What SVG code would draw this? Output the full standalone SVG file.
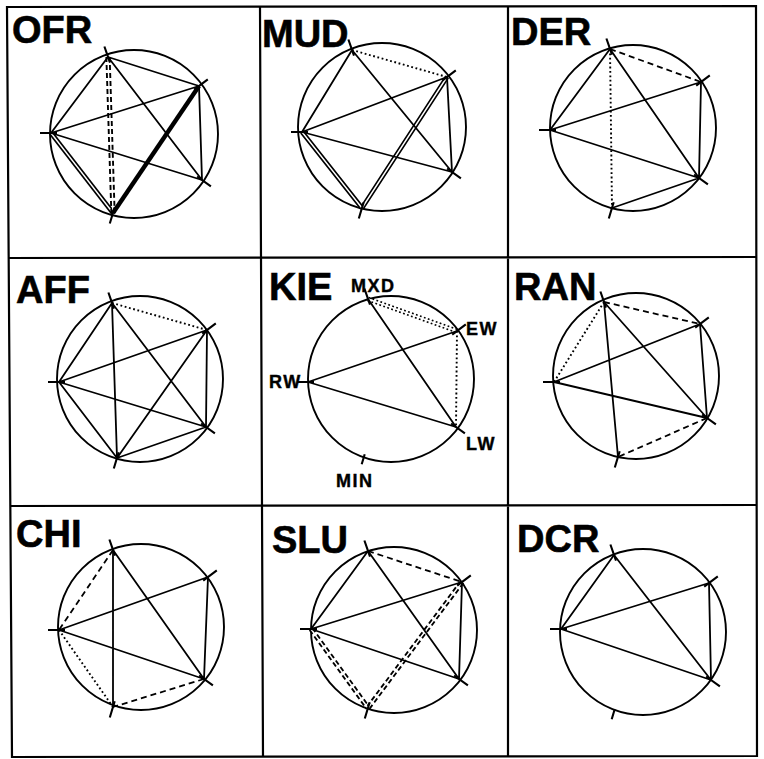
<svg xmlns="http://www.w3.org/2000/svg" width="764" height="759" viewBox="0 0 764 759">
<style>
.bg{fill:#fff}
.frame{fill:none;stroke:#000;stroke-width:2.2}
.c{fill:none;stroke:#000;stroke-width:1.9}
.s,.d,.o,.tk,.th,.db,.dw,.ddb,.odb{fill:none;stroke:#000;stroke-linecap:butt}
.s{stroke-width:1.8}
.d{stroke-width:1.8;stroke-dasharray:6 4}
.o{stroke-width:1.9;stroke-dasharray:1.8 2.6}
.tk{stroke-width:2.1}
.th{stroke-width:4.4}
.db{stroke-width:4.8}
.dw{stroke:#fff;stroke-width:1.4}
.ddb{stroke-width:5.2;stroke-dasharray:5 3}
.odb{stroke-width:4.8;stroke-dasharray:1.8 2.4}
.t{font-family:"Liberation Sans",Arial,Helvetica,sans-serif;font-weight:bold;fill:#000}
.big{font-size:38px;stroke:#000;stroke-width:0.6}
.sm{font-size:18px;letter-spacing:1.5px;stroke:#000;stroke-width:0.4}
</style>
<rect class="bg" x="0" y="0" width="764" height="759"/>
<g id="grid">
<path class="frame" d="M7,7 L756,6 L757,756 L12,757 Z"/>
<path class="frame" d="M260,7 L263,757 M508,6 L508,757 M8,258 L757,257 M10,506 L757,505"/>
</g>

<!-- OFR -->
<g id="OFR">
<text class="t big" x="12" y="43">OFR</text>
<g transform="translate(134,134)">
<circle class="c" r="84"/>
<g class="links">
<path class="db" d="M-83,-1 L-21,79"/><path class="dw" d="M-83,-1 L-21,79"/>
<path class="ddb" d="M-26,-77 L-21,79"/><path class="dw" d="M-26,-77 L-21,79"/>
<path class="s" d="M-26,-77 L65,-48 M-26,-77 L-83,-1 M-26,-77 L68,46 M65,-48 L-83,-1 M65,-48 L68,46 M-83,-1 L68,46"/>
<path class="th" d="M65,-48 L-21,79"/>
</g>
<path class="tk" d="M-24,-71.3 l-5.6,-16.2 M60.2,-44.4 l13.6,-10.2 M-77,-1 l-17,0 M63.1,42.5 l13.8,9.9 M-19.3,73.2 l-4.9,16.3"/>
</g>
</g>

<!-- MUD -->
<g id="MUD">
<text class="t big" x="262" y="47">MUD</text>
<g transform="translate(382,127)">
<circle class="c" r="84"/>
<g class="links">
<path class="db" d="M65,-50 L-20,81 M-80,5 L-20,81"/><path class="dw" d="M65,-50 L-20,81 M-80,5 L-20,81"/>
<path class="o" d="M-30,-77 L65,-50"/>
<path class="s" d="M-30,-77 L-80,5 M-30,-77 L70,45 M65,-50 L-80,5 M65,-50 L70,45 M-80,5 L70,45"/>
</g>
<path class="tk" d="M-28,-71.3 l-5.6,-16.2 M60.2,-46.4 l13.6,-10.2 M-74,5 l-17,0 M65.1,41.5 l13.8,9.9 M-18.3,75.2 l-4.9,16.3"/>
</g>
</g>

<!-- DER -->
<g id="DER">
<text class="t big" x="511" y="45">DER</text>
<g transform="translate(633,128)">
<circle class="c" r="83"/>
<g class="links">
<path class="d" d="M-23,-79 L68,-46"/>
<path class="o" d="M-23,-79 L-21,80"/>
<path class="s" d="M-23,-79 L-83,2 M-23,-79 L66,50 M68,-46 L-83,2 M68,-46 L66,50 M-83,2 L66,50 M66,50 L-21,80"/>
</g>
<path class="tk" d="M-21,-73.3 l-5.6,-16.2 M63.2,-42.4 l13.6,-10.2 M-77,2 l-17,0 M61.1,46.5 l13.8,9.9 M-19.3,74.2 l-4.9,16.3"/>
</g>
</g>

<!-- AFF -->
<g id="AFF">
<text class="t big" x="16" y="303">AFF</text>
<g transform="translate(140,379)">
<circle class="c" r="83"/>
<g class="links">
<path class="o" d="M-28,-76 L67,-49"/>
<path class="s" d="M-28,-76 L-81,3 M-28,-76 L66,48 M-28,-76 L-23,79 M67,-49 L-81,3 M67,-49 L66,48 M67,-49 L-23,79 M-81,3 L66,48 M-81,3 L-23,79 M66,48 L-23,79"/>
</g>
<path class="tk" d="M-26,-70.3 l-5.6,-16.2 M62.2,-45.4 l13.6,-10.2 M-75,3 l-17,0 M61.1,44.5 l13.8,9.9 M-21.3,73.2 l-4.9,16.3"/>
</g>
</g>

<!-- KIE -->
<g id="KIE">
<text class="t big" x="269" y="300">KIE</text>
<g transform="translate(391,379)">
<circle class="c" r="83"/>
<g class="links">
<path class="odb" d="M-23,-80 L66,-48"/><path class="dw" d="M-23,-80 L66,-48"/>
<path class="o" d="M66,-48 L65,48"/>
<path class="s" d="M-23,-80 L65,48 M66,-48 L-83,3 M-83,3 L65,48"/>
</g>
<path class="tk" d="M-21,-74.3 l-5.6,-16.2 M61.2,-44.4 l13.6,-10.2 M-77,3 l-17,0 M60.1,44.5 l13.8,9.9 M-26.3,75.2 l-3,10"/>
</g>
<text class="t sm" x="351" y="292">MXD</text>
<text class="t sm" x="466" y="335">EW</text>
<text class="t sm" x="269" y="388">RW</text>
<text class="t sm" x="466" y="450">LW</text>
<text class="t sm" x="336" y="487">MIN</text>
</g>

<!-- RAN -->
<g id="RAN">
<text class="t big" x="514" y="300">RAN</text>
<g transform="translate(636,376)">
<circle class="c" r="83"/>
<g class="links">
<path class="d" d="M-32,-74 L64,-52 M71,42 L-18,81"/>
<path class="o" d="M-32,-74 L-82,6"/>
<path class="s" d="M-32,-74 L71,42 M-32,-74 L-18,81 M64,-52 L-82,6 M64,-52 L71,42 M-82,6 L71,42"/>
</g>
<path class="tk" d="M-30,-68.3 l-5.6,-16.2 M59.2,-48.4 l13.6,-10.2 M-76,6 l-17,0 M66.1,38.5 l13.8,9.9 M-16.3,75.2 l-4.9,16.3"/>
</g>
</g>

<!-- CHI -->
<g id="CHI">
<text class="t big" x="16" y="547">CHI</text>
<g transform="translate(141,627)">
<circle class="c" r="83"/>
<g class="links">
<path class="d" d="M-28,-77 L-82,3 M63,52 L-28,80"/>
<path class="o" d="M-82,3 L-28,80"/>
<path class="s" d="M-28,-77 L63,52 M-28,-77 L-28,80 M67,-50 L-82,3 M67,-50 L63,52 M-82,3 L63,52"/>
</g>
<path class="tk" d="M-26,-71.3 l-5.6,-16.2 M62.2,-46.4 l13.6,-10.2 M-76,3 l-17,0 M58.1,48.5 l13.8,9.9 M-26.3,74.2 l-4.9,16.3"/>
</g>
</g>

<!-- SLU -->
<g id="SLU">
<text class="t big" x="272" y="553">SLU</text>
<g transform="translate(394,630)">
<circle class="c" r="83"/>
<g class="links">
<path class="ddb" d="M68,-48 L-26,78 M-83,-1 L-26,78"/><path class="dw" d="M68,-48 L-26,78 M-83,-1 L-26,78"/>
<path class="d" d="M-26,-79 L68,-48"/>
<path class="s" d="M-26,-79 L-83,-1 M-26,-79 L65,49 M68,-48 L-83,-1 M68,-48 L65,49 M-83,-1 L65,49"/>
</g>
<path class="tk" d="M-24,-73.3 l-5.6,-16.2 M63.2,-44.4 l13.6,-10.2 M-77,-1 l-17,0 M60.1,45.5 l13.8,9.9 M-24.3,72.2 l-4.9,16.3"/>
</g>
</g>

<!-- DCR -->
<g id="DCR">
<text class="t big" x="517" y="552">DCR</text>
<g transform="translate(643,632)">
<circle class="c" r="83"/>
<g class="links">
<path class="s" d="M-29,-77 L-82,-3 M-29,-77 L68,48 M66,-49 L-82,-3 M66,-49 L68,48 M-82,-3 L68,48"/>
</g>
<path class="tk" d="M-27,-71.3 l-5.6,-16.2 M61.2,-45.4 l13.6,-10.2 M-76,-3 l-17,0 M63.1,44.5 l13.8,9.9 M-28.3,77.2 l-3,10"/>
</g>
</g>
</svg>
